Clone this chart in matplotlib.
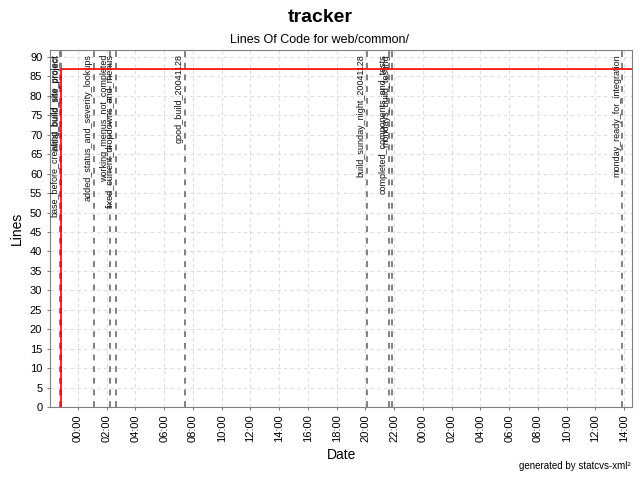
#!/usr/bin/env python3

import matplotlib
matplotlib.use("Agg")
import matplotlib.pyplot as plt
import matplotlib.dates as mdates
from datetime import datetime

plt.rcParams["font.family"] = ["Liberation Sans", "DejaVu Sans"]

# lines of code over time
loc_times = [datetime(2004, 11, 27, 22, 49), datetime(2004, 11, 27, 22, 49),
             datetime(2004, 11, 29, 14, 34)]
loc_values = [0, 87, 87]

# cvs tags
tag_names = ["base_before_creating_build_site_project",
             "initial_build_site_project",
             "added_status_and_severity_lookups",
             "working_menus_not_completed",
             "fixed_current_dropdowns_and_menus",
             "good_build_20041128",
             "build_sunday_night_20041128",
             "completed_components_and_tests",
             "mondays_build_testing",
             "monday_ready_for_integration"]
tag_times = [datetime(2004, 11, 27, 22, 47),
             datetime(2004, 11, 27, 22, 49),
             datetime(2004, 11, 28, 1, 6),
             datetime(2004, 11, 28, 2, 15),
             datetime(2004, 11, 28, 2, 38),
             datetime(2004, 11, 28, 7, 27),
             datetime(2004, 11, 28, 20, 5),
             datetime(2004, 11, 28, 21, 37),
             datetime(2004, 11, 28, 21, 50),
             datetime(2004, 11, 29, 13, 53)]

fig = plt.figure(figsize=(6.4, 4.8), dpi=100)
ax = fig.add_axes([0.078, 0.152, 0.91, 0.744])

ax.grid(True, color="#dddddd", linestyle=(0, (3, 3)), linewidth=0.8)
ax.set_axisbelow(True)

ymax = 91.8
for name, t in zip(tag_names, tag_times):
    ax.axvline(t, color="#808080", linestyle=(0, (3, 3)), linewidth=1.4, zorder=2)
    ax.annotate(name, xy=(mdates.date2num(t), ymax), xycoords="data",
                xytext=(-4, -3), textcoords="offset points",
                rotation=90, ha="center", va="top", fontsize=6.5, color="#111111",
                zorder=3)

ax.plot(loc_times, loc_values, color="red", linewidth=1.2, zorder=4)

ax.set_xlim(datetime(2004, 11, 27, 22, 3), datetime(2004, 11, 29, 14, 34))
ax.set_ylim(0, ymax)
ax.set_yticks(range(0, 91, 5))
ax.xaxis.set_major_locator(mdates.HourLocator(byhour=range(0, 24, 2)))
ax.xaxis.set_major_formatter(mdates.DateFormatter("%H:%M"))
ax.tick_params(axis="x", rotation=90, labelsize=8, length=2, color="#808080")
ax.tick_params(axis="y", labelsize=8, length=2, color="#808080")
for s in ax.spines.values():
    s.set_color("#808080")

ax.set_xlabel("Date", fontsize=10)
ax.set_ylabel("Lines", fontsize=10)

fig.text(0.5, 0.963, "tracker", ha="center", va="center", fontsize=14, fontweight="bold")
fig.text(0.5, 0.916, "Lines Of Code for web/common/", ha="center", va="center", fontsize=9)
fig.text(0.985, 0.018, "generated by statcvs-xml\u00b2", ha="right", va="bottom", fontsize=7)

plt.savefig("out.png", dpi=100)
